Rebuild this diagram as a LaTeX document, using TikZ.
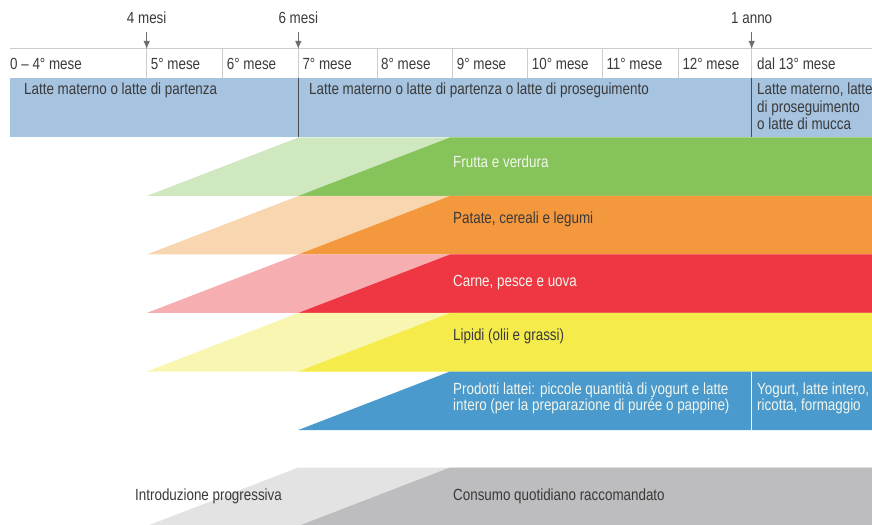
\documentclass[tikz,border=0pt]{standalone}
\usepackage{fontspec}
\setmainfont[FakeStretch=0.83]{Liberation Sans}
\usepackage{xcolor}
\usepackage{tikz}
\usetikzlibrary{arrows.meta}

\definecolor{milkblue}{HTML}{A6C3E0}
\definecolor{fruitL}{HTML}{CFE8BF}
\definecolor{fruitD}{HTML}{86C35A}
\definecolor{starchL}{HTML}{F8D6B0}
\definecolor{starchD}{HTML}{F4983E}
\definecolor{meatL}{HTML}{F6AEB1}
\definecolor{meatD}{HTML}{EE3742}
\definecolor{fatL}{HTML}{F9F6B2}
\definecolor{fatD}{HTML}{F5EC4C}
\definecolor{dairyD}{HTML}{4A9ACD}
\definecolor{legendL}{HTML}{E3E3E3}
\definecolor{legendD}{HTML}{BDBDBF}
\definecolor{txtgray}{HTML}{3A3A3A}
\definecolor{tickgray}{HTML}{CCCCCC}
\definecolor{arrowgray}{HTML}{6E6E6E}
\definecolor{lighttxt}{HTML}{F2F6EC}

\begin{document}
\begin{tikzpicture}[x=1bp, y=-1bp,
        every node/.style={inner sep=0pt, anchor=west, text=txtgray,
        font=\fontsize{16.2}{17.5}\selectfont},
        tick/.style={draw=tickgray, line width=1bp},
        split/.style={draw=black!70, line width=1bp},
        milestone/.style={draw=arrowgray, line width=1bp, shorten <=8bp,
        -{Latex[length=8bp, width=6.5bp]}},
        bandtext/.style={align=left, font=\fontsize{16.2}{14.5}\selectfont}]
        \useasboundingbox (0,0) rectangle (872,525);

        % header band and month grid
        \fill[milkblue] (10,78) rectangle (872,137.5);
        \coordinate (m4) at (146.7,49);
        \coordinate (m6) at (298.3,49);
        \coordinate (y1) at (751.7,49);
        \draw[tick] (10,49) -- (872,49);
        \foreach \x in {146.7,222.7,298.3,377,452.7,527.7,602.3,678.3,751.7}
            \draw[tick] (\x,49) -- (\x,78);
        \draw[split] (298.3,78) -- (298.3,137.5);
        \draw[split] (751.7,78) -- (751.7,137.5);

        \node[anchor=center] (L4) at (146.7,18) {4 mesi};
        \node[anchor=center] (L6) at (298.3,18) {6 mesi};
        \node[anchor=center] (L12) at (751.7,18) {1 anno};
        \draw[milestone] (L4) -- (m4);
        \draw[milestone] (L6) -- (m6);
        \draw[milestone] (L12) -- (y1);

        \node (h0) at (10,64) {0 – 4° mese};
        \node (h5) at (150.7,64) {5° mese};
        \node (h6) at (226.7,64) {6° mese};
        \node (h7) at (302.3,64) {7° mese};
        \node (h8) at (381,64) {8° mese};
        \node (h9) at (456.7,64) {9° mese};
        \node (h10) at (531.7,64) {10° mese};
        \node (h11) at (606.3,64) {11° mese};
        \node (h12) at (682.3,64) {12° mese};
        \node (h13) at (757,64) {dal 13° mese};

        \node (milk1) at (24,90) {Latte materno o latte di partenza};
        \node (milk2) at (309,90) {Latte materno o latte di partenza o latte di proseguimento};
        \node[align=left, anchor=north west] (milk3) at (757,83)
            {Latte materno, latte\\di proseguimento\\o latte di mucca};

        % food bands
        \foreach \t/\lite/\dark in {137.5/fruitL/fruitD, 196/starchL/starchD,
                254.5/meatL/meatD, 313/fatL/fatD}{
            \fill[\lite] (146.7,\t+58.5) -- (298.3,\t) -- (872,\t) -- (872,\t+58.5) -- cycle;
            \fill[\dark] (298.3,\t+58.5) -- (450,\t) -- (872,\t) -- (872,\t+58.5) -- cycle;
        }
        \fill[dairyD] (298.3,430) -- (450,371.5) -- (872,371.5) -- (872,430) -- cycle;
        \draw[white, line width=1bp] (751.7,371.5) -- (751.7,430);

        \node[text=lighttxt] (fruit) at (453,162) {Frutta e verdura};
        \node (starch) at (453,219.3) {Patate, cereali e legumi};
        \node[text=lighttxt] (meat) at (453,282.7) {Carne, pesce e uova};
        \node (fat) at (453,336.7) {Lipidi (olii e grassi)};
        \node[bandtext, text=lighttxt] (dairy) at (453,398)
            {Prodotti lattei: piccole quantità di yogurt e latte\\intero (per la preparazione di purée o pappine)};
        \node[bandtext, text=lighttxt] (dairy13) at (757,398)
            {Yogurt, latte intero,\\ricotta, formaggio};

        % legend
        \fill[legendL] (146.7,526) -- (298.3,467.5) -- (872,467.5) -- (872,526) -- cycle;
        \fill[legendD] (298.3,526) -- (450,467.5) -- (872,467.5) -- (872,526) -- cycle;
        \node (intro) at (135,496) {Introduzione progressiva};
        \node (daily) at (453,496) {Consumo quotidiano raccomandato};
\end{tikzpicture}
\end{document}
